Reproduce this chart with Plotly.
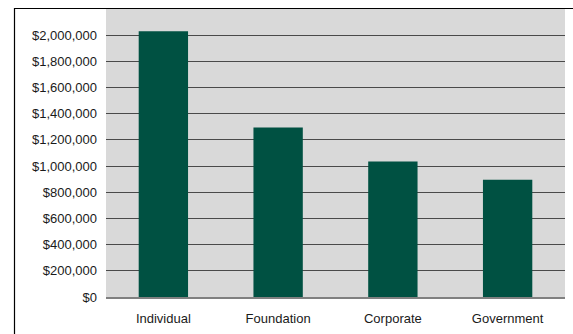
import plotly.graph_objects as go

categories = ["Individual", "Foundation", "Corporate", "Government"]
values = [2030000, 1295000, 1035000, 895000]
tick_vals = [0, 200000, 400000, 600000, 800000, 1000000, 1200000, 1400000, 1600000, 1800000, 2000000]
tick_text = ["$0", "$200,000", "$400,000", "$600,000", "$800,000", "$1,000,000",
             "$1,200,000", "$1,400,000", "$1,600,000", "$1,800,000", "$2,000,000"]

W, H = 573, 334
ml, mr, mt, mb = 106, 8, 9, 33
pw, ph = W - ml - mr, H - mt - mb

fig = go.Figure(go.Bar(
    x=categories, y=values,
    marker=dict(color="#005142", line=dict(width=0)),
    width=0.43,
))

fig.update_layout(
    width=W, height=H,
    margin=dict(l=ml, r=mr, t=mt, b=mb, pad=0),
    paper_bgcolor="white",
    plot_bgcolor="#d9d9d9",
    showlegend=False,
    font=dict(family="Liberation Sans, Arial, sans-serif", size=13, color="#1a1a1a"),
)
fig.update_xaxes(
    showgrid=False, showline=True, linecolor="#808080", linewidth=2,
    ticks="", ticklabelstandoff=8, tickfont=dict(size=13),
)
fig.update_yaxes(
    range=[0, 2200000], tickvals=tick_vals, ticktext=tick_text,
    showgrid=True, gridcolor="#4a4a4a", gridwidth=1.3,
    zeroline=False, showline=False, ticks="", ticklabelstandoff=8,
    tickfont=dict(size=13),
)

def px_x(p):
    return (p - ml) / pw

def px_y(p):
    return (H - mb - p) / ph

fig.add_shape(type="rect", xref="paper", yref="paper",
              x0=px_x(14.5), x1=px_x(W + 5), y0=px_y(H + 5), y1=px_y(8.5),
              line=dict(color="black", width=1.2), fillcolor="rgba(0,0,0,0)", layer="above")

fig.write_html("out.html")
